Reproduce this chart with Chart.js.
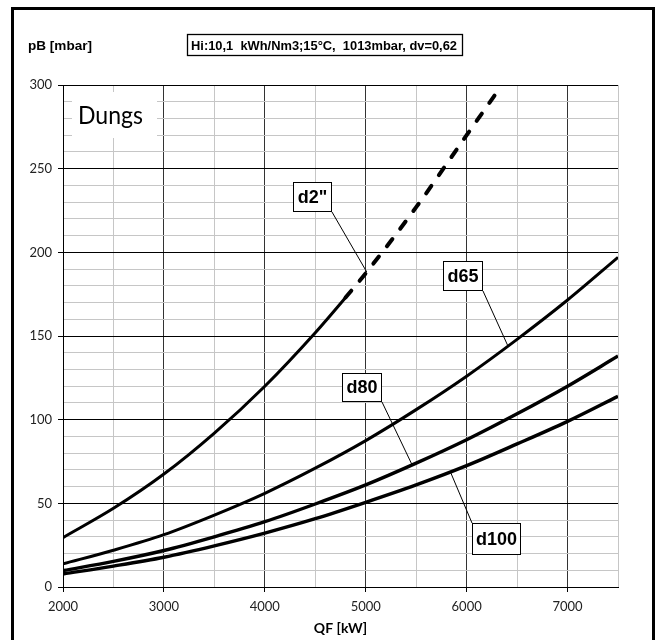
<!DOCTYPE html>
<html>
<head>
<meta charset="utf-8">
<script src="https://cdn.jsdelivr.net/npm/chart.js@4"></script>
<style>
  html, body { margin: 0; padding: 0; background: #fff; }
  canvas { display: block; }
</style>
</head>
<body>
<canvas id="chart" width="657" height="640"></canvas>
<script>
// Pressure drop pB [mbar] over burner load QF [kW] for each valve size
const qfD2 = [2000, 2500, 3000, 3500, 4000, 4500, 4800, 5000, 5500, 6000, 6350];
const pbD2 = [29.5, 47, 67.5, 92, 120, 152, 173, 187.5, 227, 270, 300];

const qf = [2000, 2500, 3000, 3500, 4000, 4500, 5000, 5500, 6000, 6500, 7000, 7500];
const pbD65 = [13.8, 22, 31.3, 43, 56, 71, 87.5, 106, 126, 148, 171.5, 197];
const pbD80 = [9.8, 15.3, 21.8, 30, 39, 49.6, 61, 74, 88, 103.5, 120, 138];
const pbD100 = [7.8, 12.5, 17.8, 24.6, 32.2, 40.8, 50.6, 61, 72.5, 85.5, 99, 114];

const seriesNames = ['d2"', 'd65', 'd80', 'd100'];
const dashFromQF = 4800;          // d2" is drawn dashed from here on

const xMajor = [2000, 3000, 4000, 5000, 6000, 7000];
const yMajor = [0, 50, 100, 150, 200, 250, 300];
const xRange = [2000, 7500];
const yRange = [0, 300];

const titleText = 'Hi:10,1  kWh/Nm3;15°C,  1013mbar, dv=0,62';
const yTitle = 'pB [mbar]';
const xTitle = 'QF [kW]';
const brand = 'Dungs';

// Callout boxes: series index, QF where the leader meets the curve, box rect, leader start corner
const callouts = [
  { series: 0, atQF: 5010, box: [293, 182, 39, 30], from: 'br' },
  { series: 1, atQF: 6410, box: [443, 261, 40, 30], from: 'br' },
  { series: 2, atQF: 5460, box: [342, 373, 40, 29], from: 'br' },
  { series: 3, atQF: 5840, box: [472, 523, 49, 32], from: 'tl' }
];

const toXY = (xs, ys) => xs.map((x, i) => ({ x: x, y: ys[i] }));

// y position of a rendered (bezier) line at a given pixel x
function curveYAt(meta, px) {
  const pts = meta.data;
  for (let i = 0; i < pts.length - 1; i++) {
    const a = pts[i], b = pts[i + 1];
    if (px < a.x || px > b.x) continue;
    const p0 = [a.x, a.y], p3 = [b.x, b.y];
    const p1 = [a.cp2x ?? a.x, a.cp2y ?? a.y];
    const p2 = [b.cp1x ?? b.x, b.cp1y ?? b.y];
    const bez = (t, k) => {
      const u = 1 - t;
      return u*u*u*p0[k] + 3*u*u*t*p1[k] + 3*u*t*t*p2[k] + t*t*t*p3[k];
    };
    let lo = 0, hi = 1;
    for (let n = 0; n < 40; n++) {
      const m = (lo + hi) / 2;
      if (bez(m, 0) < px) lo = m; else hi = m;
    }
    return bez((lo + hi) / 2, 1);
  }
  return pts[pts.length - 1].y;
}

// Draw text so it fills a given width
function fitText(ctx, text, x, y, width, font) {
  ctx.save();
  ctx.font = font;
  const w = ctx.measureText(text).width;
  ctx.translate(x, y);
  ctx.scale(width / w, 1);
  ctx.fillText(text, 0, 0);
  ctx.restore();
}

const decorations = {
  id: 'decorations',
  beforeDraw(chart) {
    const ctx = chart.ctx;
    ctx.save();
    ctx.fillStyle = '#fff';
    ctx.fillRect(0, 0, chart.width, chart.height);
    ctx.restore();
  },
  beforeDatasetsDraw(chart) {
    const ctx = chart.ctx;
    // brand box sits on top of the grid
    ctx.save();
    ctx.fillStyle = '#fff';
    ctx.fillRect(72, 92, 85, 46);
    ctx.fillStyle = '#000';
    ctx.textBaseline = 'alphabetic';
    fitText(ctx, brand, 78, 123.5, 65, '25px Lato');
    ctx.restore();
  },
  afterDatasetsDraw(chart) {
    const ctx = chart.ctx;
    const xs = chart.scales.x;
    ctx.save();
    callouts.forEach(c => {
      const meta = chart.getDatasetMeta(c.series);
      const px = xs.getPixelForValue(c.atQF);
      const py = curveYAt(meta, px);
      const [bx, by, bw, bh] = c.box;
      const sx = c.from === 'br' ? bx + bw : bx;
      const sy = c.from === 'br' ? by + bh : by;
      ctx.strokeStyle = '#000';
      ctx.lineWidth = 1;
      ctx.beginPath();
      ctx.moveTo(sx, sy);
      ctx.lineTo(px, py);
      ctx.stroke();
      ctx.fillStyle = '#fff';
      ctx.fillRect(bx, by, bw, bh);
      ctx.strokeRect(bx + 0.5, by + 0.5, bw - 1, bh - 1);
      ctx.fillStyle = '#000';
      ctx.font = 'bold 18px "Liberation Sans", Arial, sans-serif';
      ctx.textAlign = 'center';
      ctx.textBaseline = 'middle';
      ctx.fillText(seriesNames[c.series], bx + bw / 2, by + bh / 2 + 1);
    });
    ctx.restore();
  },
  afterDraw(chart) {
    const ctx = chart.ctx;
    const area = chart.chartArea;
    ctx.save();
    ctx.fillStyle = '#000';
    ctx.textBaseline = 'alphabetic';
    // condition box
    ctx.strokeStyle = '#000';
    ctx.lineWidth = 1.3;
    ctx.strokeRect(187.5, 34.5, 275, 21);
    fitText(ctx, titleText, 191, 50, 266, 'bold 13px "Liberation Sans Narrow", "Liberation Sans", Arial, sans-serif');
    // axis titles
    fitText(ctx, yTitle, 28, 50, 64, 'bold 13px "Liberation Sans Narrow", "Liberation Sans", Arial, sans-serif');
    ctx.font = 'bold 14px Lato, sans-serif';
    ctx.textAlign = 'center';
    ctx.fillText(xTitle, (area.left + area.right) / 2, 633);
    // outer frame
    ctx.lineWidth = 3;
    ctx.strokeRect(12.5, 8.5, 641, 640);
    ctx.restore();
  }
};

const lineStyle = {
  borderColor: '#000',
  backgroundColor: '#000',
  borderWidth: 3,
  pointRadius: 0,
  pointHoverRadius: 0,
  fill: false,
  cubicInterpolationMode: 'monotone'
};

new Chart(document.getElementById('chart'), {
  type: 'line',
  data: {
    datasets: [
      Object.assign({}, lineStyle, {
        label: seriesNames[0],
        data: toXY(qfD2, pbD2),
        borderCapStyle: 'round',
        segment: {
          borderDash: ctx => ctx.p0.parsed.x >= dashFromQF ? [9, 13] : undefined,
          borderWidth: ctx => ctx.p0.parsed.x >= dashFromQF ? 4 : undefined
        }
      }),
      Object.assign({}, lineStyle, { label: seriesNames[1], data: toXY(qf, pbD65) }),
      Object.assign({}, lineStyle, { label: seriesNames[2], data: toXY(qf, pbD80), borderWidth: 3.4 }),
      Object.assign({}, lineStyle, { label: seriesNames[3], data: toXY(qf, pbD100), borderWidth: 3.4 })
    ]
  },
  options: {
    responsive: false,
    animation: false,
    devicePixelRatio: 1,
    layout: { padding: { left: 0, top: 85, right: 39, bottom: 0 } },
    plugins: {
      legend: { display: false },
      title: { display: false },
      tooltip: { enabled: false }
    },
    scales: {
      x: {
        type: 'linear',
        min: xRange[0],
        max: xRange[1],
        afterBuildTicks: s => {
          const t = [];
          for (let v = xRange[0]; v <= xRange[1]; v += 500) t.push({ value: v });
          s.ticks = t;
        },
        afterFit: s => { s.height = 53; },
        border: { display: true, color: '#000', width: 1 },
        grid: {
          color: c => xMajor.includes(c.tick && c.tick.value) ? '#333' : '#c6c6c6',
          tickColor: c => xMajor.includes(c.tick && c.tick.value) ? '#000' : 'rgba(0,0,0,0)',
          tickLength: 5,
          lineWidth: 1
        },
        ticks: {
          autoSkip: false,
          maxRotation: 0,
          padding: 7,
          color: '#222',
          font: { family: 'Lato', size: 13 },
          callback: v => xMajor.includes(v) ? String(v) : ''
        }
      },
      y: {
        type: 'linear',
        min: yRange[0],
        max: yRange[1],
        afterBuildTicks: s => {
          const t = [];
          for (let v = yRange[0]; v <= yRange[1]; v += 10) t.push({ value: v });
          s.ticks = t;
        },
        afterFit: s => { s.width = 63; },
        border: { display: true, color: '#000', width: 1 },
        grid: {
          color: c => yMajor.includes(c.tick && c.tick.value) ? '#000' : '#c6c6c6',
          tickColor: c => yMajor.includes(c.tick && c.tick.value) ? '#000' : 'rgba(0,0,0,0)',
          tickLength: 5,
          lineWidth: 1
        },
        ticks: {
          autoSkip: false,
          padding: 6,
          color: '#222',
          font: { family: 'Lato', size: 13 },
          callback: v => yMajor.includes(v) ? String(v) : ''
        }
      }
    }
  },
  plugins: [decorations]
});
</script>
</body>
</html>
